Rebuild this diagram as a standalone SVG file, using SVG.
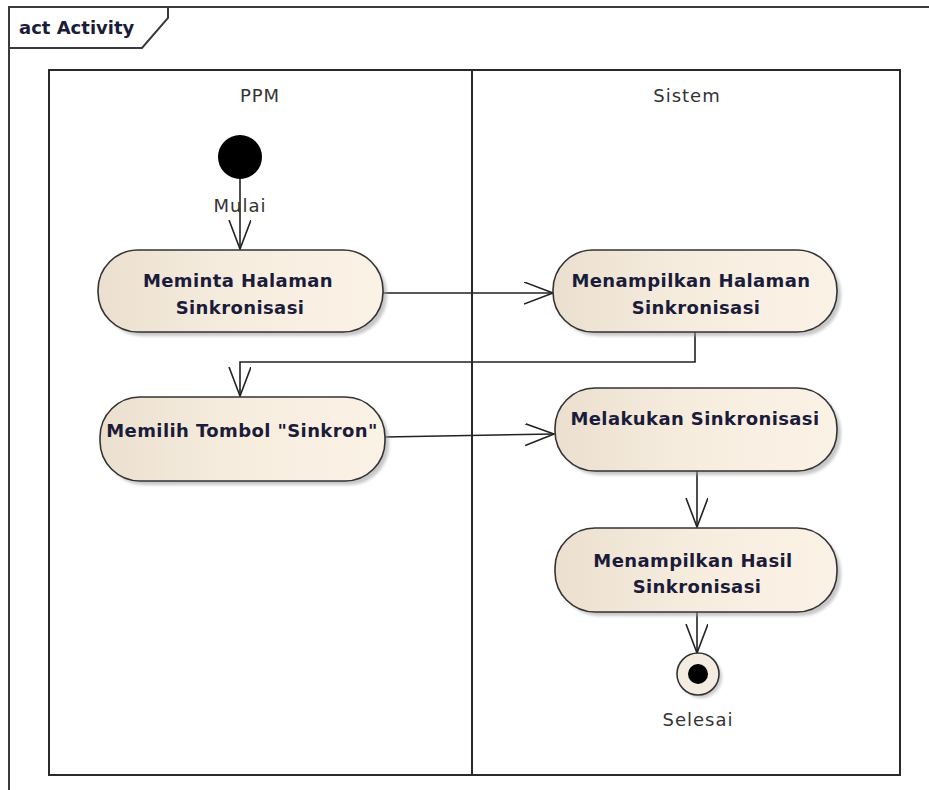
<svg xmlns="http://www.w3.org/2000/svg" width="929" height="790" viewBox="0 0 929 790">
  <style>
    .frame { fill: none; stroke: #3a3a3a; stroke-width: 2; }
    .lane { fill: none; stroke: #2a2a2a; stroke-width: 2; }
    .action { fill: url(#actFill); stroke: #333; stroke-width: 1.6; }
    .shadow { fill: #9a9a9a; opacity: 0.55; filter: url(#soft); }
    .label { font-family: "DejaVu Sans", "Noto Sans", sans-serif; font-size: 18px; font-weight: bold; fill: #1b1b3a; text-anchor: middle; letter-spacing: 0.4px; }
    .plain { font-family: "DejaVu Sans", "Noto Sans", sans-serif; font-size: 18px; fill: #333; text-anchor: middle; letter-spacing: 1px; }
    .flow { fill: none; stroke: #222; stroke-width: 1.6; marker-end: url(#open); }
  </style>
  <defs>
    <linearGradient id="actFill" x1="0" y1="0" x2="1" y2="0">
      <stop offset="0" stop-color="#ebe0cf"/>
      <stop offset="0.5" stop-color="#f7eddf"/>
      <stop offset="1" stop-color="#fbf2e6"/>
    </linearGradient>
    <filter id="soft" x="-10%" y="-10%" width="120%" height="130%">
      <feGaussianBlur stdDeviation="1.5"/>
    </filter>
    <marker id="open" markerUnits="userSpaceOnUse" markerWidth="32" markerHeight="26" refX="29" refY="11" orient="auto">
      <path d="M0,0 L29,11 L0,22" fill="none" stroke="#222" stroke-width="1.6"/>
    </marker>
  </defs>

  <rect width="929" height="790" fill="#ffffff"/>

  <!-- activity frame -->
  <g id="frame">
    <path class="frame" d="M9,790 V7 H929"/>
    <path class="frame" d="M9,48 H142 L168,18 V7"/>
    <text x="19" y="34" font-family="DejaVu Sans, sans-serif" font-size="18" font-weight="bold" fill="#1b1b3a">act Activity</text>
  </g>

  <!-- swimlanes -->
  <g id="lanes">
    <rect class="lane" x="49" y="70" width="851" height="705"/>
    <line class="lane" x1="472" y1="70" x2="472" y2="775"/>
    <text class="plain" x="260" y="102">PPM</text>
    <text class="plain" x="687" y="102">Sistem</text>
  </g>

  <!-- connectors -->
  <g id="connectors">
    <path class="flow" d="M240,179 V249"/>
    <path class="flow" d="M383,293 H553"/>
    <path class="flow" d="M695,332 V362 H240 V396"/>
    <path class="flow" d="M385,437 L554,434"/>
    <path class="flow" d="M697,471 V527"/>
    <path class="flow" d="M697,612 V653"/>
  </g>

  <g id="start">
    <circle cx="240" cy="157" r="22" fill="#000"/>
    <text class="plain" x="240" y="212">Mulai</text>
  </g>

  <g id="meminta-halaman">
    <rect class="shadow" x="102" y="254" width="285" height="82" rx="40"/>
    <rect class="action" x="98" y="250" width="285" height="82" rx="40"/>
    <text class="label" x="238" y="287">Meminta Halaman</text>
    <text class="label" x="240" y="314">Sinkronisasi</text>
  </g>

  <g id="menampilkan-halaman">
    <rect class="shadow" x="557" y="254" width="284" height="82" rx="40"/>
    <rect class="action" x="553" y="250" width="284" height="82" rx="40"/>
    <text class="label" x="691" y="287">Menampilkan Halaman</text>
    <text class="label" x="696" y="314">Sinkronisasi</text>
  </g>

  <g id="memilih-tombol">
    <rect class="shadow" x="104" y="401" width="285" height="84" rx="40"/>
    <rect class="action" x="100" y="397" width="285" height="84" rx="40"/>
    <text class="label" x="242" y="437">Memilih Tombol "Sinkron"</text>
  </g>

  <g id="melakukan-sinkronisasi">
    <rect class="shadow" x="559" y="392" width="282" height="83" rx="40"/>
    <rect class="action" x="555" y="388" width="282" height="83" rx="40"/>
    <text class="label" x="695" y="425">Melakukan Sinkronisasi</text>
  </g>

  <g id="menampilkan-hasil">
    <rect class="shadow" x="559" y="532" width="282" height="84" rx="40"/>
    <rect class="action" x="555" y="528" width="282" height="84" rx="40"/>
    <text class="label" x="693" y="567">Menampilkan Hasil</text>
    <text class="label" x="697" y="593">Sinkronisasi</text>
  </g>

  <g id="end">
    <circle cx="701" cy="677" r="21" fill="#9a9a9a" opacity="0.5" filter="url(#soft)"/>
    <circle cx="698" cy="674" r="21" fill="#f4ece1" stroke="#333" stroke-width="1.6"/>
    <circle cx="698" cy="674" r="10" fill="#000"/>
    <text class="plain" x="698" y="726">Selesai</text>
  </g>
</svg>
